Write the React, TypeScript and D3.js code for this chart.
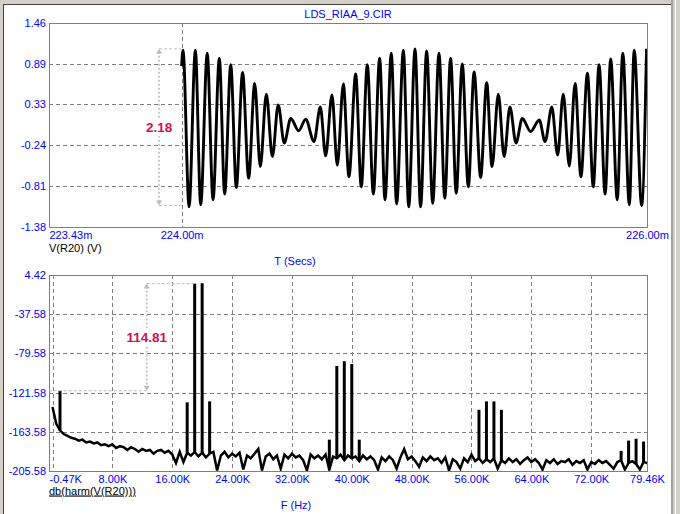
import * as d3 from 'd3';
import React, { useEffect, useRef } from 'react';

// transient trace V(R20): one point per half-cycle extremum (ms, V)
const waveTime = [
	224.0, 224.006, 224.032, 224.059, 224.082, 224.11, 224.135, 224.162, 224.185, 224.211,
	224.235, 224.262, 224.288, 224.314, 224.338, 224.364, 224.39, 224.415, 224.441, 224.469,
	224.503, 224.533, 224.569, 224.596, 224.619, 224.646, 224.669, 224.695, 224.719, 224.748,
	224.772, 224.798, 224.824, 224.851, 224.874, 224.901, 224.924, 224.953, 224.976, 225.003,
	225.027, 225.053, 225.079, 225.106, 225.131, 225.156, 225.18, 225.206, 225.232, 225.257,
	225.285, 225.311, 225.334, 225.361, 225.386, 225.411, 225.437, 225.464, 225.5, 225.537,
	225.562, 225.591, 225.616, 225.64, 225.666, 225.691, 225.716, 225.744, 225.769, 225.794,
	225.82, 225.844, 225.872, 225.896, 225.924, 225.945, 225.977, 225.998,
];
const waveVolts = [
	0.86, 1.08, -1.1, 1.08, -1.07, 1.04, -1.0, 0.97, -0.92, 0.88,
	-0.83, 0.77, -0.7, 0.62, -0.54, 0.47, -0.4, 0.32, -0.21, 0.13,
	-0.04, 0.12, -0.19, 0.29, -0.39, 0.46, -0.52, 0.61, -0.68, 0.75,
	-0.82, 0.88, -0.92, 0.97, -1.0, 1.04, -1.06, 1.08, -1.1, 1.1,
	-1.1, 1.07, -1.05, 1.04, -0.98, 0.97, -0.91, 0.89, -0.82, 0.78,
	-0.69, 0.63, -0.54, 0.47, -0.4, 0.29, -0.21, 0.13, -0.05, 0.11,
	-0.19, 0.29, -0.38, 0.47, -0.53, 0.62, -0.68, 0.76, -0.82, 0.88,
	-0.92, 0.96, -1.0, 1.04, -1.07, 1.08, -1.08, 1.1,
];

const timeTicks = [223.43, 224.0, 226.0];
const voltTicks = [1.46, 0.89, 0.33, -0.24, -0.81, -1.38];

// db(harm(V(R20))): noise floor in 0.5 kHz bins starting at 0 Hz
const binKHz = 0.5;
const noiseFloor = [
	-137, -155, -162, -166, -168, -170, -171, -173, -172, -175,
	-174, -176, -175, -178, -177, -179, -177, -181, -179, -180,
	-183, -180, -182, -185, -182, -184, -183, -187, -184, -183,
	-186, -184, -188, -197, -185, -196, -186, -189, -185, -190,
	-186, -191, -187, -185, -205, -189, -185, -191, -187, -190,
	-186, -204, -189, -192, -187, -182, -205, -190, -187, -193,
	-189, -203, -188, -192, -187, -191, -189, -194, -205, -188,
	-192, -189, -193, -188, -204, -190, -192, -188, -194, -189,
	-192, -190, -195, -189, -193, -190, -194, -204, -191, -195,
	-190, -194, -203, -191, -182, -193, -190, -195, -201, -191,
	-195, -190, -194, -192, -197, -191, -205, -193, -196, -203,
	-192, -196, -188, -195, -192, -197, -193, -196, -192, -203,
	-194, -197, -192, -196, -193, -198, -194, -191, -196, -193,
	-197, -204, -194, -197, -193, -198, -195, -196, -193, -199,
	-195, -197, -194, -204, -196, -198, -194, -197, -195, -199,
	-203, -196, -194, -204, -197, -195, -198, -204, -196, -197,
];
// tones and their products
const toneKHz = [1, 18, 19, 20, 21, 37, 38, 39, 40, 41, 57, 58, 59, 60, 76, 77, 78, 79];
const toneDb = [
	-119.61, -132, -4.8, -4.4, -131, -172, -93, -88, -91, -172,
	-140, -131, -131, -140, -184, -173, -171, -174,
];

const freqGrid = [0, 8, 16, 24, 32, 40, 48, 56, 64, 72];
const freqTicks = [-0.47, 8, 16, 24, 32, 40, 48, 56, 64, 72, 79.46];
const dbTicks = [4.42, -37.58, -79.58, -121.58, -163.58, -205.58];

const width = 680;
const height = 514;
const plotLeft = 49;
const plotRight = 647;
const top1 = 23;
const bottom1 = 227;
const top2 = 275;
const bottom2 = 471;
const font = '"Liberation Sans", Arial, sans-serif';
const blue = '#0000ff';
const crimson = '#d0104f';
const gridGray = '#808080';
const markGray = '#bdbdbd';

const drawDimension = (
	g: any,
	xPos: number,
	yHi: number,
	yLo: number,
	xHiEnd: number,
	xLoEnd: number,
	label: string
) => {
	g.append('line')
		.attr('x1', xPos)
		.attr('x2', xHiEnd)
		.attr('y1', yHi)
		.attr('y2', yHi)
		.attr('stroke', markGray)
		.attr('stroke-dasharray', '3,2');
	g.append('line')
		.attr('x1', xPos)
		.attr('x2', xLoEnd)
		.attr('y1', yLo)
		.attr('y2', yLo)
		.attr('stroke', markGray)
		.attr('stroke-dasharray', '3,2');
	g.append('line')
		.attr('x1', xPos)
		.attr('x2', xPos)
		.attr('y1', yHi + 3)
		.attr('y2', yLo - 3)
		.attr('stroke', markGray)
		.attr('stroke-width', 1.6)
		.attr('stroke-dasharray', '2,2');
	g.append('path')
		.attr('d', `M${xPos},${yHi} l-3,5 h6 z`)
		.attr('fill', markGray);
	g.append('path')
		.attr('d', `M${xPos},${yLo} l-3,-5 h6 z`)
		.attr('fill', markGray);
	const mid = (yHi + yLo) / 2;
	g.append('rect')
		.attr('x', xPos - label.length * 4)
		.attr('y', mid - 9)
		.attr('width', label.length * 8)
		.attr('height', 18)
		.attr('fill', 'white');
	g.append('text')
		.attr('x', xPos)
		.attr('y', mid + 5)
		.attr('text-anchor', 'middle')
		.attr('font-size', 13.5)
		.attr('font-weight', 'bold')
		.attr('fill', crimson)
		.text(label);
};

const drawChart = () => {
	const svg = d3
		.create('svg')
		.attr('width', width)
		.attr('height', height)
		.attr('viewBox', `0 0 ${width} ${height}`)
		.style('display', 'block')
		.attr('font-family', font);

	// window chrome
	svg.append('rect').attr('width', width).attr('height', height).attr('fill', '#d4d0c8');
	svg.append('rect').attr('x', 4).attr('y', 5).attr('width', 667).attr('height', 509).attr('fill', 'white');
	svg.append('line').attr('x1', 3).attr('x2', 671).attr('y1', 4.5).attr('y2', 4.5).attr('stroke', '#404040');
	svg.append('line').attr('x1', 3.5).attr('x2', 3.5).attr('y1', 4).attr('y2', height).attr('stroke', '#404040');
	svg.append('line').attr('x1', 672).attr('x2', 672).attr('y1', 0).attr('y2', height).attr('stroke', '#a0a0a0').attr('stroke-width', 2);
	svg.append('line').attr('x1', 675.5).attr('x2', 675.5).attr('y1', 0).attr('y2', height).attr('stroke', '#ffffff');

	svg.append('text')
		.attr('x', (plotLeft + plotRight) / 2)
		.attr('y', 18)
		.attr('text-anchor', 'middle')
		.attr('font-size', 11)
		.attr('fill', blue)
		.text('LDS_RIAA_9.CIR');

	const defs = svg.append('defs');
	defs.append('clipPath').attr('id', 'clip1').append('rect')
		.attr('x', plotLeft).attr('y', top1).attr('width', plotRight - plotLeft).attr('height', bottom1 - top1);
	defs.append('clipPath').attr('id', 'clip2').append('rect')
		.attr('x', plotLeft).attr('y', top2).attr('width', plotRight - plotLeft).attr('height', bottom2 - top2);

	const fmt = (d: any) => Number(d).toFixed(2);

	// ---------- transient plot ----------
	const x1: any = d3.scaleLinear().domain([223.43, 226.0]).range([plotLeft, plotRight]);
	const y1: any = d3.scaleLinear().domain([-1.38, 1.46]).range([bottom1, top1]);

	const grid1 = svg.append('g')
		.attr('stroke', gridGray)
		.attr('stroke-dasharray', '4,3')
		.attr('shape-rendering', 'crispEdges');
	grid1.selectAll('line.h')
		.data(voltTicks.slice(1, -1))
		.join('line')
		.attr('class', 'h')
		.attr('x1', plotLeft)
		.attr('x2', plotRight)
		.attr('y1', (d: any) => Math.round(y1(d)) + 0.5)
		.attr('y2', (d: any) => Math.round(y1(d)) + 0.5);
	grid1.selectAll('line.v')
		.data(timeTicks.slice(1, -1))
		.join('line')
		.attr('class', 'v')
		.attr('x1', (d: any) => Math.round(x1(d)) + 0.5)
		.attr('x2', (d: any) => Math.round(x1(d)) + 0.5)
		.attr('y1', top1)
		.attr('y2', bottom1);

	svg.append('rect')
		.attr('x', plotLeft + 0.5)
		.attr('y', top1 + 0.5)
		.attr('width', plotRight - plotLeft)
		.attr('height', bottom1 - top1)
		.attr('fill', 'none')
		.attr('stroke', gridGray);

	const wave = waveTime.map((t, i) => ({ t, v: waveVolts[i] }));
	svg.append('path')
		.datum(wave)
		.attr('clip-path', 'url(#clip1)')
		.attr('fill', 'none')
		.attr('stroke', 'black')
		.attr('stroke-width', 2.9)
		.attr('stroke-linejoin', 'round')
		.attr(
			'd',
			d3.line<any>()
				.x((d: any) => x1(d.t))
				.y((d: any) => y1(d.v))
				.curve(d3.curveMonotoneX)
		);

	svg.append('g')
		.attr('transform', `translate(${plotLeft},0)`)
		.call(d3.axisLeft(y1).tickValues(voltTicks).tickFormat(fmt).tickSize(0).tickPadding(3))
		.call((g: any) => g.select('.domain').remove())
		.attr('font-size', 11)
		.attr('font-family', font)
		.call((g: any) => g.selectAll('text').attr('fill', blue));

	svg.append('g')
		.attr('transform', `translate(0,${bottom1})`)
		.call(d3.axisBottom(x1).tickValues(timeTicks).tickFormat((d: any) => fmt(d) + 'm').tickSize(0).tickPadding(4))
		.call((g: any) => g.select('.domain').remove())
		.attr('font-size', 11)
		.attr('font-family', font)
		.call((g: any) => g.selectAll('text').attr('fill', blue))
		.call((g: any) => g.select('.tick text').attr('text-anchor', 'start'));

	svg.append('text').attr('x', plotLeft).attr('y', 251.5).attr('font-size', 11).attr('fill', 'black').text('V(R20) (V)');
	svg.append('text').attr('x', 295).attr('y', 265).attr('text-anchor', 'middle').attr('font-size', 11).attr('fill', blue).text('T (Secs)');

	drawDimension(svg.append('g'), x1(223.903), y1(1.1), y1(-1.08), x1(224.0), x1(224.0), '2.18');

	// ---------- harmonic plot ----------
	const x2: any = d3.scaleLinear().domain([-0.47, 79.46]).range([plotLeft, plotRight]);
	const y2: any = d3.scaleLinear().domain([-205.58, 4.42]).range([bottom2, top2]);

	const grid2 = svg.append('g')
		.attr('stroke', gridGray)
		.attr('stroke-dasharray', '4,3')
		.attr('shape-rendering', 'crispEdges');
	grid2.selectAll('line.h')
		.data(dbTicks.slice(1, -1))
		.join('line')
		.attr('class', 'h')
		.attr('x1', plotLeft)
		.attr('x2', plotRight)
		.attr('y1', (d: any) => Math.round(y2(d)) + 0.5)
		.attr('y2', (d: any) => Math.round(y2(d)) + 0.5);
	grid2.selectAll('line.v')
		.data(freqGrid)
		.join('line')
		.attr('class', 'v')
		.attr('x1', (d: any) => Math.round(x2(d)) + 0.5)
		.attr('x2', (d: any) => Math.round(x2(d)) + 0.5)
		.attr('y1', top2)
		.attr('y2', bottom2);

	svg.append('rect')
		.attr('x', plotLeft + 0.5)
		.attr('y', top2 + 0.5)
		.attr('width', plotRight - plotLeft)
		.attr('height', bottom2 - top2)
		.attr('fill', 'none')
		.attr('stroke', gridGray);

	const spectrum = noiseFloor.map((db, i) => ({ f: i * binKHz, db }));
	const traces = svg.append('g').attr('clip-path', 'url(#clip2)');
	traces.append('path')
		.datum(spectrum)
		.attr('fill', 'none')
		.attr('stroke', 'black')
		.attr('stroke-width', 2.5)
		.attr('stroke-linejoin', 'miter')
		.attr(
			'd',
			d3.line<any>()
				.x((d: any) => x2(d.f))
				.y((d: any) => y2(d.db))
		);
	traces.selectAll('line.tone')
		.data(toneKHz.map((f, i) => ({ f, db: toneDb[i], floor: noiseFloor[Math.round(f / binKHz)] })))
		.join('line')
		.attr('class', 'tone')
		.attr('x1', (d: any) => x2(d.f))
		.attr('x2', (d: any) => x2(d.f))
		.attr('y1', (d: any) => y2(d.floor))
		.attr('y2', (d: any) => y2(d.db))
		.attr('stroke', 'black')
		.attr('stroke-width', 3);

	svg.append('g')
		.attr('transform', `translate(${plotLeft},0)`)
		.call(d3.axisLeft(y2).tickValues(dbTicks).tickFormat(fmt).tickSize(0).tickPadding(3))
		.call((g: any) => g.select('.domain').remove())
		.attr('font-size', 11)
		.attr('font-family', font)
		.call((g: any) => g.selectAll('text').attr('fill', blue));

	svg.append('g')
		.attr('transform', `translate(0,${bottom2})`)
		.call(d3.axisBottom(x2).tickValues(freqTicks).tickFormat((d: any) => fmt(d) + 'K').tickSize(0).tickPadding(4))
		.call((g: any) => g.select('.domain').remove())
		.attr('font-size', 11)
		.attr('font-family', font)
		.call((g: any) => g.selectAll('text').attr('fill', blue))
		.call((g: any) => g.select('.tick text').attr('text-anchor', 'start'));

	svg.append('text')
		.attr('x', plotLeft)
		.attr('y', 494.5)
		.attr('font-size', 11)
		.attr('fill', 'black')
		.attr('text-decoration', 'underline')
		.text('db(harm(V(R20)))');
	svg.append('text').attr('x', 296).attr('y', 509).attr('text-anchor', 'middle').attr('font-size', 11).attr('fill', blue).text('F (Hz)');

	drawDimension(svg.append('g'), x2(12.59), y2(-4.8), y2(-119.61), x2(19), x2(-0.4), '114.81');

	return svg.node();
};

export default function App() {
	const containerDiv = useRef<HTMLDivElement>(null);

	useEffect(() => {
		const chart = drawChart();
		const container = containerDiv.current;
		if (container && chart) {
			container.firstChild && container.removeChild(container.firstChild);
			container.appendChild(chart);
		}
	}, []);

	return <div ref={containerDiv} style={{ position: 'absolute', left: 0, top: 0, width, height }}></div>;
}
